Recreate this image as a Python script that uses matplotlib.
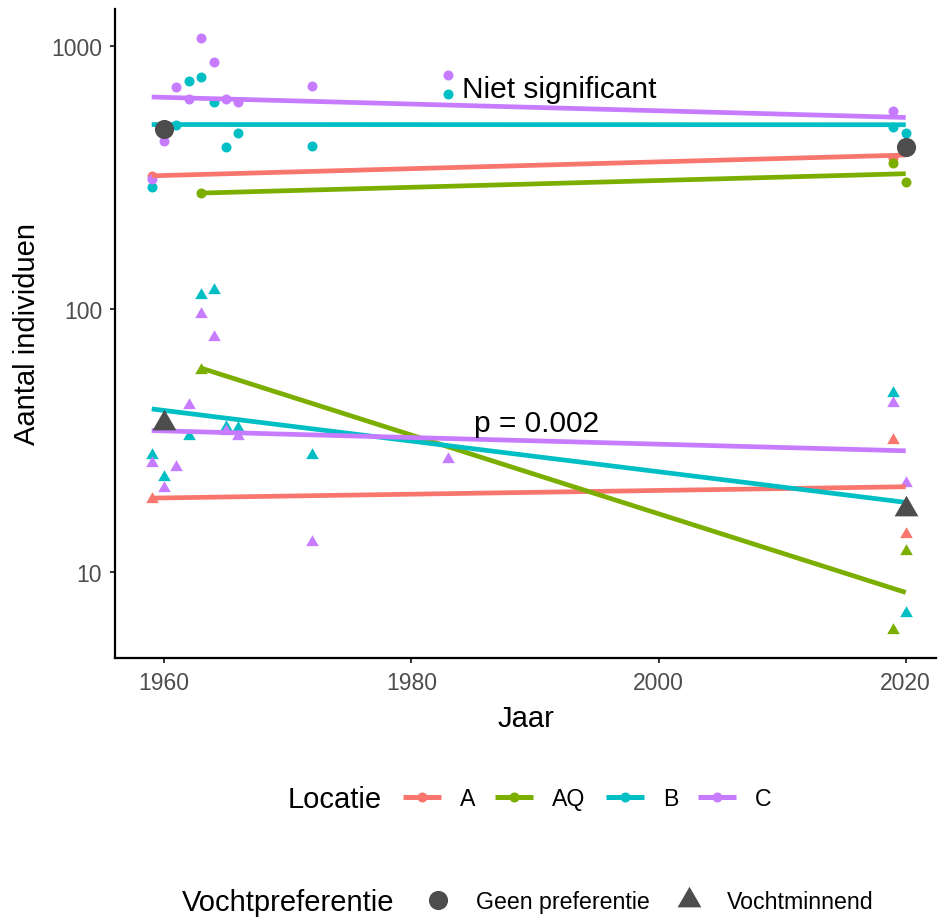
import matplotlib.pyplot as plt
from matplotlib.lines import Line2D
from matplotlib.ticker import NullLocator

plt.rcParams["font.family"] = ["Liberation Sans", "DejaVu Sans"]

locaties = ["A", "AQ", "B", "C"]
kleuren = ["#F8766D", "#7CAE00", "#00BFC4", "#C77CFF"]
grijs = "#4D4D4D"

# Geen preferentie (circles)
a_geen_jaar = [1959, 2019, 2020]
a_geen_n = [320, 375, 420]
aq_geen_jaar = [1963, 2019, 2020]
aq_geen_n = [276, 358, 303]
b_geen_jaar = [1959, 1961, 1962, 1963, 1964, 1965, 1966, 1972, 1983, 2019, 2020]
b_geen_n = [290, 503, 736, 762, 611, 412, 465, 418, 656, 493, 465]
c_geen_jaar = [1959, 1960, 1961, 1962, 1963, 1964, 1965, 1966, 1972, 1983, 2019]
c_geen_n = [312, 436, 700, 628, 1073, 867, 628, 611, 705, 776, 565]

# Vochtminnend (triangles)
a_vocht_jaar = [1959, 2019, 2020]
a_vocht_n = [18.9, 31.8, 14.0]
aq_vocht_jaar = [1963, 2019, 2020]
aq_vocht_n = [58.8, 6.0, 12.0]
b_vocht_jaar = [1959, 1960, 1962, 1963, 1964, 1965, 1966, 1972, 2019, 2020]
b_vocht_n = [27.8, 23.0, 32.8, 113, 118, 35.5, 35.3, 27.8, 48.0, 7.0]
c_vocht_jaar = [1959, 1960, 1961, 1962, 1963, 1964, 1965, 1966, 1972, 1983, 2019, 2020]
c_vocht_n = [26.0, 20.9, 25.0, 43.0, 95.5, 78.5, 34.5, 32.8, 13.0, 27.0, 44.0, 21.8]

# regression lines (start year, start value, end value at 2020)
geen_fit_start = [1959, 1963, 1959, 1959]
geen_fit_v0 = [321, 276, 503, 640]
geen_fit_v1 = [385, 327, 502, 535]
vocht_fit_start = [1959, 1963, 1959, 1959]
vocht_fit_v0 = [19.1, 59.6, 41.7, 34.5]
vocht_fit_v1 = [21.1, 8.36, 18.4, 28.9]
fit_eind = 2020

# group means
gem_jaar = [1960, 2020]
gem_geen = [483, 413]
gem_vocht = [36.9, 17.3]

geen_jaar = [a_geen_jaar, aq_geen_jaar, b_geen_jaar, c_geen_jaar]
geen_n = [a_geen_n, aq_geen_n, b_geen_n, c_geen_n]
vocht_jaar = [a_vocht_jaar, aq_vocht_jaar, b_vocht_jaar, c_vocht_jaar]
vocht_n = [a_vocht_n, aq_vocht_n, b_vocht_n, c_vocht_n]

# equilateral triangle like R's pch 17
driehoek = [(0, 1), (-0.866, -0.5), (0.866, -0.5), (0, 1)]

W, H = 938, 920
fig = plt.figure(figsize=(W / 100, H / 100), dpi=100)
ax = fig.add_axes([115 / W, 1 - 659 / H, (936 - 115) / W, (659 - 10) / H])

for i, kleur in enumerate(kleuren):
    ax.plot(geen_jaar[i], geen_n[i], "o", color=kleur, ms=7.2, mew=0, zorder=2)
    ax.plot(vocht_jaar[i], vocht_n[i], marker=driehoek, ls="none", color=kleur, ms=10.5, mew=0, zorder=2)

for i, kleur in enumerate(kleuren):
    ax.plot([geen_fit_start[i], fit_eind], [geen_fit_v0[i], geen_fit_v1[i]], color=kleur,
            lw=3.4, solid_capstyle="butt", zorder=3)
    ax.plot([vocht_fit_start[i], fit_eind], [vocht_fit_v0[i], vocht_fit_v1[i]], color=kleur,
            lw=3.4, solid_capstyle="butt", zorder=3)

ax.plot(gem_jaar, gem_geen, "o", color=grijs, ms=13.8, mew=0, zorder=4)
ax.plot(gem_jaar, gem_vocht, marker=driehoek, ls="none", color=grijs, ms=19.8, mew=0, zorder=4)

ax.text(1992, 685, "Niet significant", fontsize=21.5, ha="center", va="center")
ax.text(1990.1, 37.0, "p = 0.002", fontsize=21.5, ha="center", va="center")

ax.set_yscale("log")
ax.set_xlim(1956.03, 2022.45)
ax.set_ylim(4.71, 1383)
ax.set_xticks([1960, 1980, 2000, 2020])
ax.set_yticks([10, 100, 1000])
ax.set_yticklabels(["10", "100", "1000"])
ax.yaxis.set_minor_locator(NullLocator())

for s in ["top", "right"]:
    ax.spines[s].set_visible(False)
for s in ["left", "bottom"]:
    ax.spines[s].set_linewidth(1.6)
ax.tick_params(length=3.8, width=1.4, color="#333333", labelcolor=grijs, labelsize=16.5, pad=5.5)

ax.set_xlabel("Jaar", fontsize=21, labelpad=7)
ax.set_ylabel("Aantal individuen", fontsize=21, labelpad=7)

# legends
fs = 16.7
opts = dict(frameon=False, fontsize=fs, loc="center left", borderpad=0, borderaxespad=0,
            handlelength=1.64, handletextpad=0.82, columnspacing=0.86)

loc_handles = [Line2D([], [], color=k, lw=3.6, marker="o", ms=7.2, mew=0, solid_capstyle="butt")
               for k in kleuren]
fig.text(288 / W, 1 - 800 / H, "Locatie", fontsize=21, ha="left", va="center")
leg1 = fig.legend(loc_handles, locaties, ncol=4, bbox_to_anchor=(403 / W, 1 - 800 / H), **opts)

vocht_handles = [Line2D([], [], color=grijs, ls="none", marker="o", ms=13.8, mew=0),
                 Line2D([], [], color=grijs, ls="none", marker=driehoek, ms=19.8, mew=0)]
fig.text(182 / W, 1 - 903 / H, "Vochtpreferentie", fontsize=21, ha="left", va="center")
leg2 = fig.legend(vocht_handles, ["Geen preferentie", "Vochtminnend"], ncol=2,
                  bbox_to_anchor=(419 / W, 1 - 903 / H), **opts)

fig.savefig("out.png", dpi=100)
